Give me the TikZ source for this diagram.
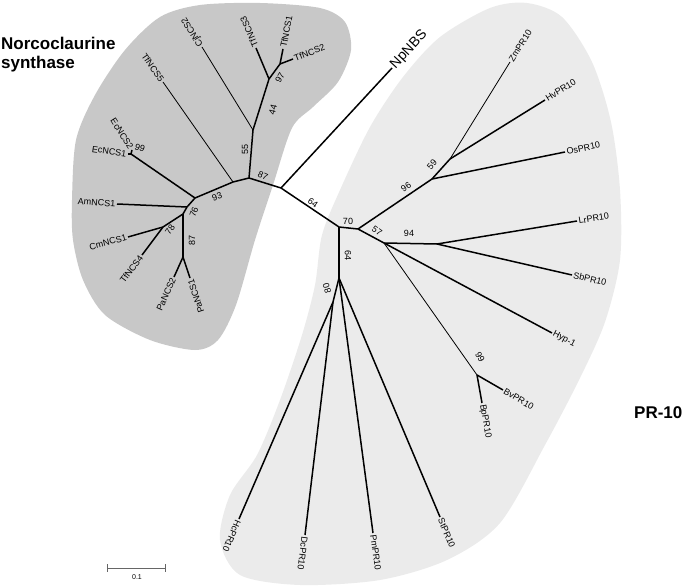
\documentclass[tikz,border=0pt]{standalone}
\usepackage{fontspec}
\setmainfont{Liberation Sans}
\usetikzlibrary{arrows}
\definecolor{ncsgray}{RGB}{200,200,200}
\definecolor{prgray}{RGB}{235,235,235}
\tikzstyle{leaf}=[font=\fontsize{9}{10}\selectfont, inner sep=1.5pt]
\tikzstyle{boot}=[font=\fontsize{9}{10}\selectfont, inner sep=0pt]
\tikzstyle{branch}=[line width=1.5pt]
\tikzstyle{twig}=[line width=0.8pt]
\tikzstyle{clade}=[font=\fontsize{17}{19}\selectfont\bfseries, align=left, inner sep=0pt]

\begin{document}
\begin{tikzpicture}[x=1pt,y=-1pt]
\useasboundingbox (0,0) rectangle (685,588);
\fill[ncsgray] plot[smooth cycle] coordinates {(72,200) (76,140) (95,95) (125,50) (160,17) (200,5) (260,3) (320,8) (345,22) (351,50) (338,82) (313,107) (292,128) (273,185) (255,240) (236,305) (218,340) (195,350) (150,340) (105,315) (83,280) (73,240)};
\fill[prgray] plot[smooth cycle] coordinates {(527,3) (562,17) (592,62) (611,122) (620,190) (620,260) (605,322) (580,378) (545,445) (500,523) (447,560) (380,580) (300,585) (240,575) (220,540) (230,495) (257,455) (280,400) (302,335) (315,285) (322,235) (340,190) (370,127) (403,77) (440,37) (490,8)};

\coordinate (nRoot) at (281,188);
\coordinate (nNCS) at (249,178);
\coordinate (n55) at (253,130);
\coordinate (n44) at (269,79);
\coordinate (n97) at (280,64);
\coordinate (nT5) at (233,182);
\coordinate (n93) at (195,198);
\coordinate (nEc) at (131,154);
\coordinate (nAm) at (187,207);
\coordinate (n76) at (183,214);
\coordinate (n78) at (163,227);
\coordinate (nPa) at (183,257);
\coordinate (nPR) at (339,227);
\coordinate (nA) at (358,229);
\coordinate (n96) at (432,179);
\coordinate (n59) at (450,159);
\coordinate (n57) at (384,243);
\coordinate (n94) at (437,244);
\coordinate (n99) at (477,375);
\coordinate (n64) at (339,278);
\coordinate (n80) at (333,302);

\node[leaf, rotate=21, anchor=west](TfNCS2)at (293,59){TfNCS2};
\node[leaf, rotate=79, anchor=west](TfNCS1)at (283,49){TfNCS1};
\node[leaf, rotate=113, anchor=west](TfNCS3)at (256,48){TfNCS3};
\node[leaf, rotate=122, anchor=west](CjNCS2)at (202,47){CjNCS2};
\node[leaf, rotate=-55, anchor=east](TfNCS5)at (163,82){TfNCS5};
\node[leaf, rotate=-58, anchor=east](EcNCS2)at (132,150){EcNCS2};
\node[leaf, rotate=-8, anchor=east](EcNCS1)at (128,154){EcNCS1};
\node[leaf, rotate=-4, anchor=east](AmNCS1)at (117,204){AmNCS1};
\node[leaf, rotate=15, anchor=east](CmNCS1)at (128,237){CmNCS1};
\node[leaf, rotate=53, anchor=east](TfNCS4)at (142,255){TfNCS4};
\node[leaf, rotate=66, anchor=east](PaNCS2)at (174,277){PaNCS2};
\node[leaf, rotate=108, anchor=east](PaNCS1)at (190,278){PaNCS1};
\node[leaf, font=\fontsize{14}{16}\selectfont, rotate=47, anchor=west](NpNBS)at (392,68){NpNBS};
\node[leaf, rotate=58, anchor=west](ZmPR10)at (510,62){ZmPR10};
\node[leaf, rotate=32, anchor=west](HvPR10)at (545,100){HvPR10};
\node[leaf, rotate=12, anchor=west](OsPR10)at (565,152){OsPR10};
\node[leaf, rotate=9, anchor=west](LrPR10)at (577,221){LrPR10};
\node[leaf, rotate=-13, anchor=west](SbPR10)at (572,275){SbPR10};
\node[leaf, rotate=-28, anchor=west](Hyp1)at (552,333){Hyp-1};
\node[leaf, rotate=-30, anchor=west](BvPR10)at (503,390){BvPR10};
\node[leaf, rotate=-80, anchor=west](BpPR10)at (482,403){BpPR10};
\node[leaf, rotate=-113, anchor=west](HcPR10)at (239,519){HcPR10};
\node[leaf, rotate=-97, anchor=west](DcPR10)at (305,535){DcPR10};
\node[leaf, rotate=-82, anchor=west](PmPR10)at (373,533){PmPR10};
\node[leaf, rotate=-67, anchor=west](StPR10)at (440,517){StPR10};

\draw[branch] (nRoot) -- (nNCS);
\draw[branch] (nRoot) -- (NpNBS.west);
\draw[branch] (nRoot) -- (nPR);
\draw[branch] (nNCS) -- (n55);
\draw[branch] (n55) -- (n44);
\draw[branch] (n44) -- (n97);
\draw[branch] (n44) -- (TfNCS3.west);
\draw[branch] (n97) -- (TfNCS1.west);
\draw[branch] (n97) -- (TfNCS2.west);
\draw[twig] (n55) -- (CjNCS2.west);
\draw[branch] (nNCS) -- (nT5);
\draw[twig] (nT5) -- (TfNCS5.east);
\draw[branch] (nT5) -- (n93);
\draw[branch] (n93) -- (nEc);
\draw[branch] (nEc) -- (EcNCS1.east);
\draw[branch] (nEc) -- (EcNCS2.east);
\draw[branch] (n93) -- (nAm);
\draw[branch] (nAm) -- (AmNCS1.east);
\draw[branch] (nAm) -- (n76);
\draw[branch] (n76) -- (n78);
\draw[branch] (n78) -- (CmNCS1.east);
\draw[branch] (n78) -- (TfNCS4.east);
\draw[branch] (n76) -- (nPa);
\draw[branch] (nPa) -- (PaNCS2.east);
\draw[branch] (nPa) -- (PaNCS1.east);
\draw[branch] (nPR) -- (nA);
\draw[branch] (nA) -- (n96);
\draw[branch] (n96) -- (n59);
\draw[twig] (n59) -- (ZmPR10.west);
\draw[branch] (n59) -- (HvPR10.west);
\draw[branch] (n96) -- (OsPR10.west);
\draw[branch] (nA) -- (n57);
\draw[branch] (n57) -- (n94);
\draw[branch] (n94) -- (LrPR10.west);
\draw[branch] (n94) -- (SbPR10.west);
\draw[branch] (n57) -- (Hyp1.west);
\draw[twig] (n57) -- (n99);
\draw[branch] (n99) -- (BvPR10.west);
\draw[branch] (n99) -- (BpPR10.west);
\draw[branch] (nPR) -- (n64);
\draw[branch] (n64) -- (n80);
\draw[branch] (n80) -- (HcPR10.west);
\draw[branch] (n80) -- (DcPR10.west);
\draw[branch] (n64) -- (PmPR10.west);
\draw[branch] (n64) -- (StPR10.west);

\node[boot, rotate=60](b97)at (280,78){97};
\node[boot, rotate=75](b44)at (273,110){44};
\node[boot, rotate=90](b55)at (245,149){55};
\node[boot, rotate=-25](b87a)at (263,176){87};
\node[boot, rotate=20](b93)at (217,197){93};
\node[boot, rotate=70](b76)at (194,212){76};
\node[boot, rotate=55](b78)at (170,230){78};
\node[boot, rotate=90](b87b)at (192,240){87};
\node[boot, rotate=-20](b99a)at (140,148){99};
\node[boot, rotate=-35](b64a)at (313,203){64};
\node[boot](b70)at (348,221){70};
\node[boot, rotate=-35](b57)at (377,231){57};
\node[boot](b94)at (409,233){94};
\node[boot, rotate=35](b96)at (406,187){96};
\node[boot, rotate=50](b59)at (432,165){59};
\node[boot, rotate=-90](b64b)at (348,256){64};
\node[boot, rotate=105](b80)at (327,288){80};
\node[boot, rotate=-60](b99b)at (480,357){99};

\node[clade, anchor=north west](ncs)at (1,37){Norcoclaurine\\synthase};
\node[clade, anchor=base west](pr)at (634,418){PR-10};

\coordinate (sbL) at (107,568);
\coordinate (sbR) at (166,568);
\draw[|-|, gray!80!black, line width=1pt] (sbL) -- (sbR);
\node[font=\fontsize{7}{8}\selectfont](sb)at (137,577){0.1};
\end{tikzpicture}
\end{document}
